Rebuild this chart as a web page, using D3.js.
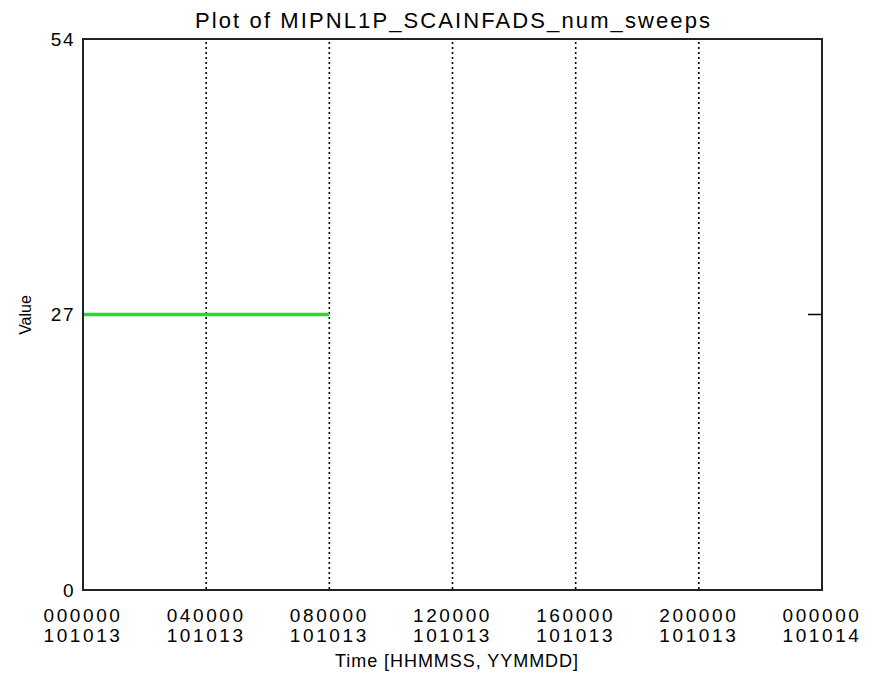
<!DOCTYPE html>
<html><head><meta charset="utf-8">
<script src="https://cdn.jsdelivr.net/npm/d3@7"></script>
<style>
body{margin:0;background:#fff;}
text{font-family:"Liberation Sans","DejaVu Sans",sans-serif;fill:#000;}
</style></head>
<body>
<svg id="chart" width="873" height="687"></svg>
<script>
// Data
const title = "Plot of MIPNL1P_SCAINFADS_num_sweeps";
const xTickHours = [0, 4, 8, 12, 16, 20, 24];
const xTickTimes = ["000000", "040000", "080000", "120000", "160000", "200000", "000000"];
const xTickDates = ["101013", "101013", "101013", "101013", "101013", "101013", "101014"];
const yTicks = [0, 27, 54];
const seriesHours = [0, 8];
const seriesValues = [27, 27];

const svg = d3.select("#chart");
const m = {left: 83, right: 822, top: 39, bottom: 590};
const x = d3.scaleLinear().domain([0, 24]).range([m.left, m.right]);
const y = d3.scaleLinear().domain([0, 54]).range([m.bottom, m.top]);

// Gridlines (dotted) at interior ticks
svg.append("g").selectAll("line").data(xTickHours.slice(1, -1)).join("line")
  .attr("x1", d => x(d)).attr("x2", d => x(d))
  .attr("y1", y(54) + 3).attr("y2", y(0))
  .attr("stroke", "#000").attr("stroke-width", 1.6).attr("stroke-dasharray", "2,3");

// Series line
const line = d3.line().x((d, i) => x(seriesHours[i])).y(d => y(d));
svg.append("path").datum(seriesValues).attr("d", line)
  .attr("fill", "none").attr("stroke", "#2fd62f").attr("stroke-width", 3.5);

// Frame
svg.append("rect").attr("x", m.left).attr("y", m.top)
  .attr("width", m.right - m.left).attr("height", m.bottom - m.top)
  .attr("fill", "none").attr("stroke", "#222").attr("stroke-width", 2);

// Y tick inward at 27 (right side)
svg.append("line").attr("x1", m.right - 14).attr("x2", m.right)
  .attr("y1", y(27)).attr("y2", y(27)).attr("stroke", "#000").attr("stroke-width", 1.5);

// Y tick labels
svg.append("g").selectAll("text").data(yTicks).join("text")
  .attr("x", 75).attr("y", d => y(d)).attr("dy", "0.36em")
  .attr("text-anchor", "end").attr("font-size", 19).attr("letter-spacing", 1.5)
  .text(d => d);

// X tick labels
const xl = svg.append("g").selectAll("g").data(xTickHours).join("g")
  .attr("transform", d => `translate(${x(d)},0)`);
xl.append("text").attr("y", 622).attr("text-anchor", "middle")
  .attr("font-size", 19).attr("letter-spacing", 2.6).text((d, i) => xTickTimes[i]);
xl.append("text").attr("y", 642).attr("text-anchor", "middle")
  .attr("font-size", 19).attr("letter-spacing", 2.6).text((d, i) => xTickDates[i]);

// Title
svg.append("text").attr("x", (m.left + m.right) / 2).attr("y", 28)
  .attr("text-anchor", "middle").attr("font-size", 22)
  .attr("textLength", 515).attr("lengthAdjust", "spacing")
  .text(title);

// Axis titles
svg.append("text").attr("x", (m.left + m.right) / 2 + 4).attr("y", 667)
  .attr("text-anchor", "middle").attr("font-size", 18)
  .attr("textLength", 243).attr("lengthAdjust", "spacing")
  .text("Time [HHMMSS, YYMMDD]");
svg.append("text").attr("transform", "translate(31,315) rotate(-90)")
  .attr("text-anchor", "middle").attr("font-size", 16)
  .text("Value");
</script>
</body></html>
